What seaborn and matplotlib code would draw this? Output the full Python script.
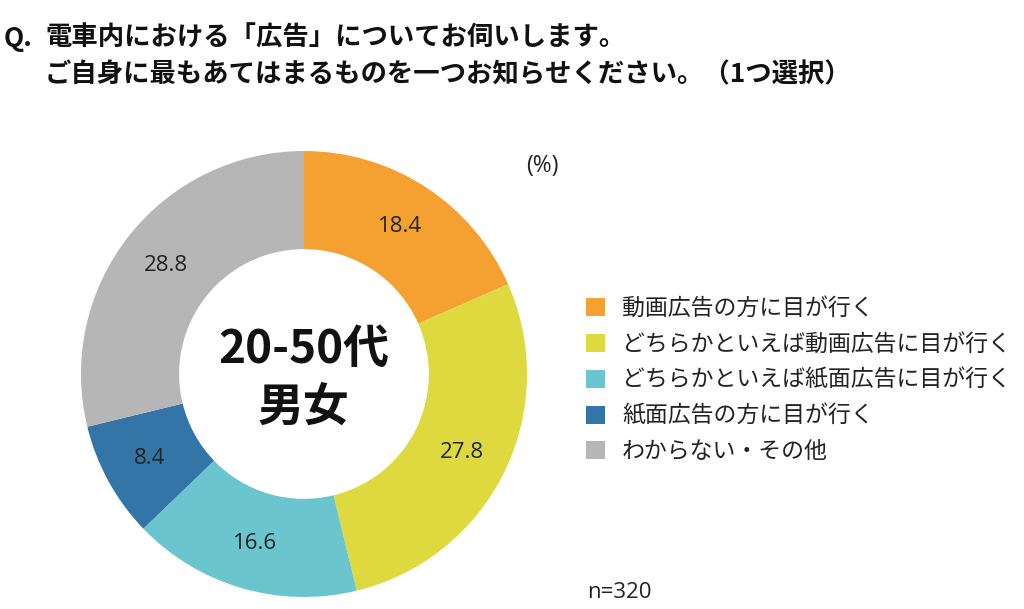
import matplotlib
matplotlib.use("Agg")
import matplotlib.pyplot as plt
import seaborn as sns
from matplotlib.patches import Patch

# data
categories = [
    "動画広告の方に目が行く",
    "どちらかといえば動画広告に目が行く",
    "どちらかといえば紙面広告に目が行く",
    "紙面広告の方に目が行く",
    "わからない・その他",
]
values = [18.4, 27.8, 16.6, 8.4, 28.8]
colors = ["#F4A132", "#DDD93E", "#6BC5CE", "#3375A7", "#B6B6B6"]

title_line1 = "電車内における「広告」についてお伺いします。"
title_line2 = "ご自身に最もあてはまるものを一つお知らせください。（1つ選択）"
center_lines = ["20-50代", "男女"]

sns.set_theme(style="white")
plt.rcParams["font.family"] = ["Noto Sans CJK JP", "DejaVu Sans"]
num_font = ["Open Sans", "Noto Sans CJK JP"]

fig = plt.figure(figsize=(10.24, 6.09), dpi=100)
palette = sns.color_palette(colors)

# pie axes: center (304, 374) px, radius ~223 px
ax = fig.add_axes([81 / 1024, 12 / 609, 446 / 1024, 446 / 609])
wedges, texts, autotexts = ax.pie(
    values,
    colors=palette,
    startangle=90,
    counterclock=False,
    radius=1.0,
    wedgeprops=dict(width=0.44, linewidth=0),
    autopct=lambda p: f"{p:.1f}",
    pctdistance=0.79,
    textprops=dict(fontsize=16, color="#222222", family=num_font),
)
ax.set_xlim(-1, 1)
ax.set_ylim(-1, 1)
ax.set_aspect("equal")

ax.text(0, 0.11, center_lines[0], ha="center", va="center", fontsize=33,
        fontweight="bold", color="#111111")
ax.text(0, -0.15, center_lines[1], ha="center", va="center", fontsize=33,
        fontweight="bold", color="#111111")

# title
tkw = dict(fontsize=19, fontweight="bold", va="center", ha="left", color="#111111")
fig.text(4 / 1024, 1 - 38 / 609, "Q.", **tkw)
fig.text(45 / 1024, 1 - 38 / 609, title_line1, **tkw)
fig.text(45 / 1024, 1 - 75 / 609, title_line2, **tkw)

fig.text(542 / 1024, 1 - 166 / 609, "(%)", fontsize=16.5, ha="center",
         va="center", color="#222222", family=num_font)
fig.text(619 / 1024, 1 - 593 / 609, "n=320", fontsize=16, ha="center",
         va="center", color="#222222", family=num_font)

handles = [Patch(facecolor=c, edgecolor="none") for c in palette]
fig.legend(
    handles, categories,
    loc="upper left",
    bbox_to_anchor=(586 / 1024, 1 - 297 / 609),
    frameon=False,
    fontsize=16.5,
    handlelength=0.83,
    handleheight=0.83,
    handletextpad=0.74,
    labelspacing=0.56,
    borderaxespad=0,
    borderpad=0,
    labelcolor="#222222",
)

fig.savefig("out.png", dpi=100)
